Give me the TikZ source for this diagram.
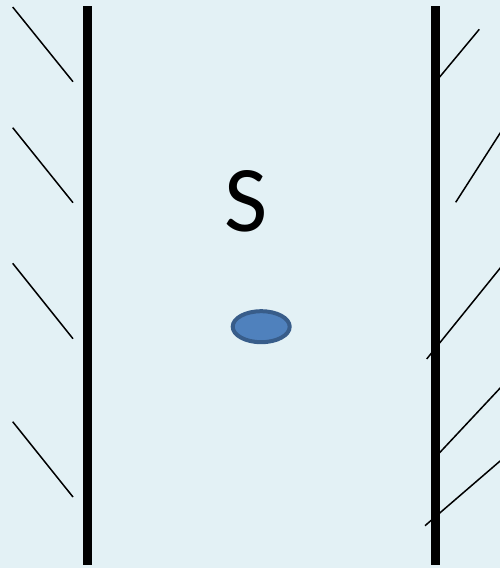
\documentclass[tikz,border=0pt]{standalone}
\usepackage{fontspec}
\setmainfont{Carlito}
\usetikzlibrary{shapes.geometric}
\definecolor{wallbg}{HTML}{E3F1F5}
\definecolor{dotfill}{HTML}{4F81BD}
\definecolor{dotline}{HTML}{385D8A}
\begin{document}
\begin{tikzpicture}[x=1pt,y=-1pt,
  hatch/.style={draw=black,line width=1.5pt},
  wall/.style={draw=black,line width=9pt},
  dot/.style={ellipse,draw=dotline,fill=dotfill,line width=4pt,minimum width=57pt,minimum height=31pt,inner sep=0pt}]
\fill[wallbg] (0,0) rectangle (500,568);
\useasboundingbox (0,0) rectangle (500,568);
% left hatches
\foreach \ya/\yb in {7/81.7,127.7/202.7,263.3/338.7,421.7/497}
  \draw[hatch] (12.7,\ya) -- (73,\yb);
% right hatches
\draw[hatch] (479.3,29.3) -- (437,80.2);
\draw[hatch] (503,128.6) -- (455.7,202.3);
\draw[hatch] (503,264.6) -- (426.7,359);
\draw[hatch] (503,385) -- (437,455.5);
\draw[hatch] (503,458.5) -- (425,525.7);
% walls
\draw[wall] (87,6) -- (87,565);
\draw[wall] (435,6) -- (435,565);
\node[font=\fontsize{94}{94}\selectfont] (label) at (246,201) {S};
\node[dot] (particle) at (261.2,326.7) {};
\end{tikzpicture}
\end{document}
